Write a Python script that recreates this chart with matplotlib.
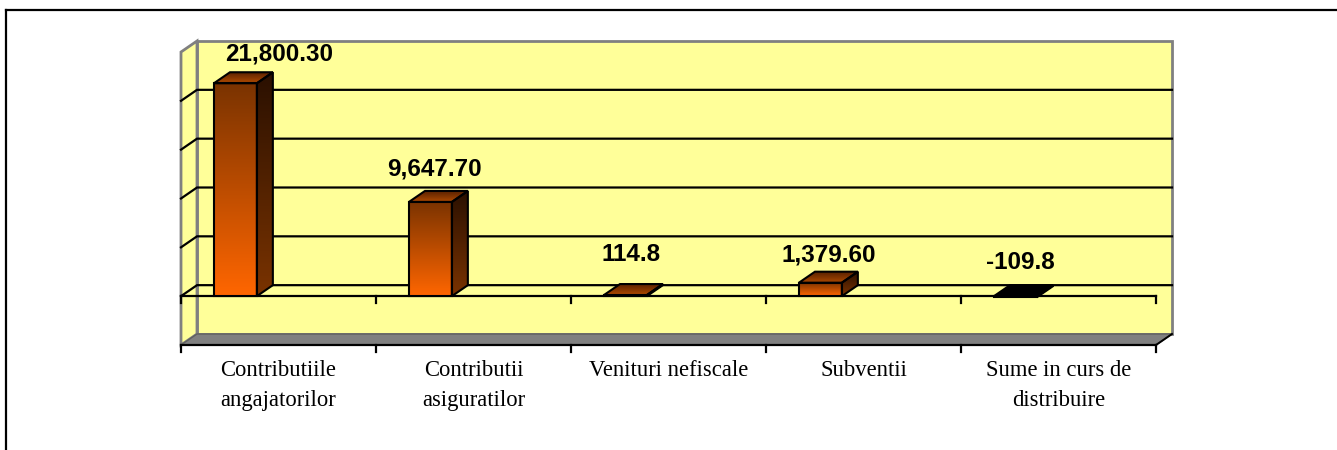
import numpy as np
import matplotlib.pyplot as plt
from matplotlib.patches import Polygon
from matplotlib.lines import Line2D
from matplotlib.colors import LinearSegmentedColormap

categories = ['Contributiile\nangajatorilor', 'Contributii\nasiguratilor',
              'Venituri nefiscale', 'Subventii', 'Sume in curs de\ndistribuire']
values = [21800.30, 9647.70, 114.8, 1379.60, -109.8]
value_labels = ['21,800.30', '9,647.70', '114.8', '1,379.60', '-109.8']

# label offsets from the bar top (pixels), the labels were placed by hand in the original
label_dx = [44, 4, 6, 8, 5]
label_dy = [23, 26, 34, 21, 27]

W, H = 1337, 450
fig = plt.figure(figsize=(W / 100, H / 100), dpi=100)
ax = fig.add_axes([181 / W, (H - 345) / H, 975 / W, 293 / H])
ymin, ymax, step = -5000, 25000, 5000
x0, x1 = -0.5, len(categories) - 0.5
ax.set_xlim(x0, x1)
ax.set_ylim(ymin, ymax)
ax.set_autoscale_on(False)
ax.axis('off')

# 3d depth: 16 px right, 11 px up, in data units
inv = ax.transData.inverted()
base = ax.transData.transform((0, 0))
ddx, ddy = inv.transform(base + np.array([16, 11]))

WALL = '#FFFF99'
EDGE = '#808080'


def poly(pts, fc, ec, lw=1.5, z=1):
    p = Polygon(pts, closed=True, facecolor=fc, edgecolor=ec, lw=lw,
                zorder=z, clip_on=False, joinstyle='miter')
    ax.add_patch(p)
    return p


def shade(p, c_lo, c_hi, z):
    xy = p.get_xy()
    cmap = LinearSegmentedColormap.from_list('g', [c_lo, c_hi])
    im = ax.imshow(np.linspace(0, 1, 128).reshape(-1, 1), cmap=cmap,
                   origin='lower', aspect='auto', interpolation='bilinear',
                   extent=(xy[:, 0].min(), xy[:, 0].max(), xy[:, 1].min(), xy[:, 1].max()),
                   zorder=z)
    im.set_clip_path(p)
    im.set_clip_on(True)


# walls and floor
poly([(x0 + ddx, ymin + ddy), (x1 + ddx, ymin + ddy), (x1 + ddx, ymax + ddy),
      (x0 + ddx, ymax + ddy)], WALL, EDGE, 2)
poly([(x0, ymin), (x0 + ddx, ymin + ddy), (x0 + ddx, ymax + ddy), (x0, ymax)],
     WALL, EDGE, 2)
poly([(x0, ymin), (x1, ymin), (x1 + ddx, ymin + ddy), (x0 + ddx, ymin + ddy)],
     EDGE, '#606060', 1)

# gridlines on back wall and side wall
for v in range(0, ymax, step):
    ax.plot([x0, x0 + ddx, x1 + ddx], [v, v + ddy, v + ddy], color='black',
            lw=1.6, zorder=2, clip_on=False, solid_joinstyle='miter')

# category axis lines (at zero and at the floor) with ticks
tick_len = inv.transform(base + np.array([0, 7]))[1]
for level in [0, ymin]:
    ax.plot([x0, x1], [level, level], color='black', lw=1.6, zorder=2.5, clip_on=False)
    for b in np.arange(x0, x1 + 0.01, 1):
        ax.plot([b, b], [level, level - tick_len], color='black', lw=1.6,
                zorder=2.5, clip_on=False)
ax.plot([x1, x1 + ddx], [ymin, ymin + ddy], color='black', lw=1.4, zorder=2.5,
        clip_on=False)

# bars
bw = 0.22
for i, v in enumerate(values):
    left = i - 0.331
    right = left + bw
    lo, hi = min(0, v), max(0, v)
    z = 3 + i
    if v < 0:
        cf = ('#000000', '#000000')
        cs = ('#000000', '#000000')
        ct = ('#000000', '#000000')
    else:
        cf = ('#FF6600', '#7A3300')
        cs = ('#7A3300', '#2A1000')
        ct = ('#B04A00', '#5A2200')
    front = poly([(left, lo), (right, lo), (right, hi), (left, hi)], 'none', 'black', 1.5, z + 0.2)
    shade(front, cf[0], cf[1], z)
    side = poly([(right, lo), (right + ddx, lo + ddy), (right + ddx, hi + ddy), (right, hi)],
                'none', 'black', 1.5, z + 0.2)
    shade(side, cs[0], cs[1], z)
    top = poly([(left, hi), (right, hi), (right + ddx, hi + ddy), (left + ddx, hi + ddy)],
               'none', 'black', 1.5, z + 0.2)
    shade(top, ct[0], ct[1], z)

    ax.annotate(value_labels[i], xy=(left + bw / 2, hi), xytext=(label_dx[i] * 0.72, label_dy[i] * 0.72),
                textcoords='offset points', ha='center', va='baseline',
                fontsize=17.5, fontweight='bold', family='Liberation Sans',
                zorder=20, annotation_clip=False)

for i, name in enumerate(categories):
    ax.annotate(name, xy=(i, ymin), xytext=(0, -15 * 0.72), textcoords='offset points',
                ha='center', va='top', multialignment='center', linespacing=1.55,
                fontsize=16.3, family='Liberation Serif', annotation_clip=False)

# outer frame (open at right and bottom)
fig.add_artist(Line2D([6 / W, 1], [(H - 10) / H] * 2, color='black', lw=1.6))
fig.add_artist(Line2D([6 / W] * 2, [0, (H - 10) / H], color='black', lw=1.6))

fig.savefig('out.png', dpi=100, facecolor='white')
